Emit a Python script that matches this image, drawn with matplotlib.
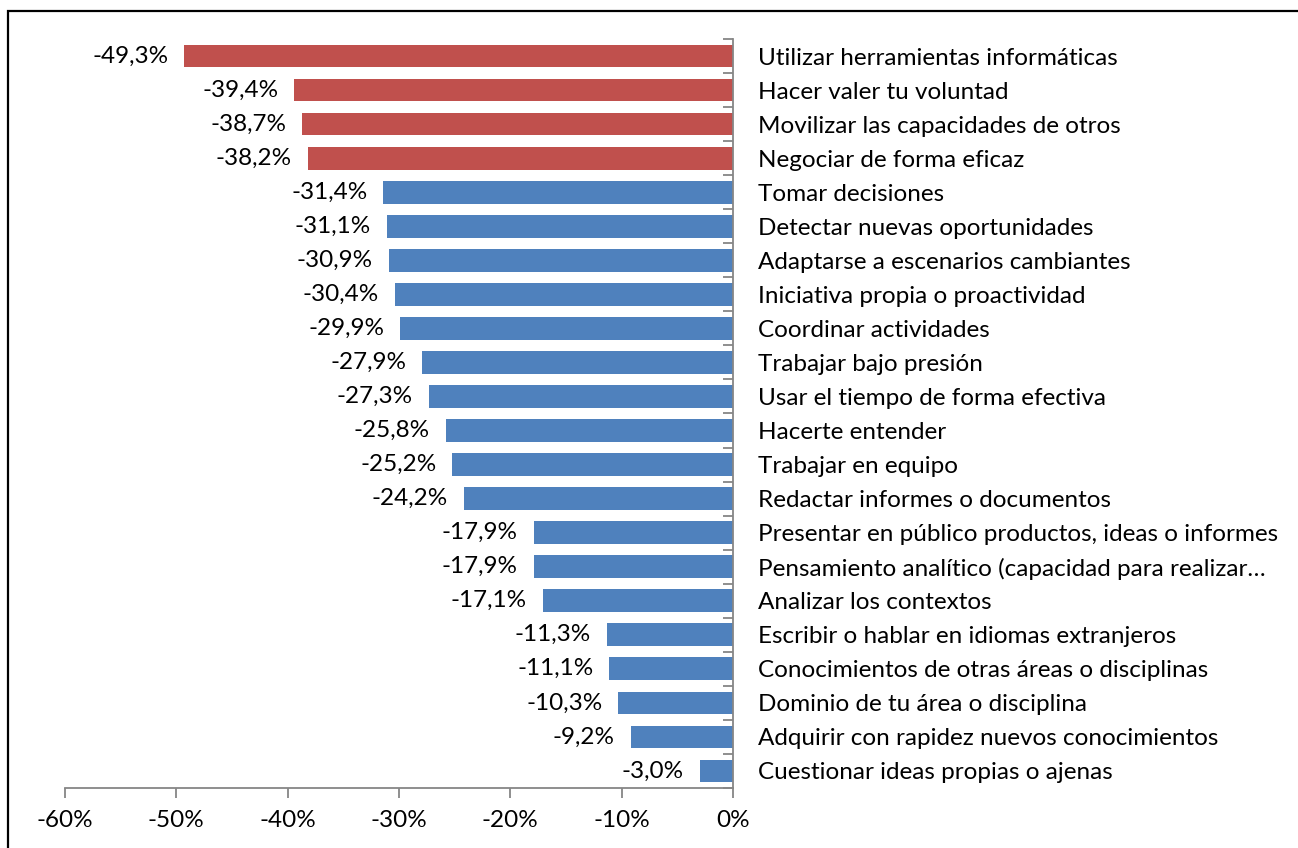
import matplotlib
matplotlib.use("Agg")
import matplotlib.pyplot as plt
from matplotlib.patches import Rectangle
from matplotlib.ticker import FixedLocator, FuncFormatter

plt.rcParams['font.family'] = ['Lato', 'DejaVu Sans']

categories = [
    "Utilizar herramientas informáticas",
    "Hacer valer tu voluntad",
    "Movilizar las capacidades de otros",
    "Negociar de forma eficaz",
    "Tomar decisiones",
    "Detectar nuevas oportunidades",
    "Adaptarse a escenarios cambiantes",
    "Iniciativa propia o proactividad",
    "Coordinar actividades",
    "Trabajar bajo presión",
    "Usar el tiempo de forma efectiva",
    "Hacerte entender",
    "Trabajar en equipo",
    "Redactar informes o documentos",
    "Presentar en público productos, ideas o informes",
    "Pensamiento analítico (capacidad para realizar…",
    "Analizar los contextos",
    "Escribir o hablar en idiomas extranjeros",
    "Conocimientos de otras áreas o disciplinas",
    "Dominio de tu área o disciplina",
    "Adquirir con rapidez nuevos conocimientos",
    "Cuestionar ideas propias o ajenas",
]
values = [-49.3, -39.4, -38.7, -38.2, -31.4, -31.1, -30.9, -30.4, -29.9,
          -27.9, -27.3, -25.8, -25.2, -24.2, -17.9, -17.9, -17.1, -11.3,
          -11.1, -10.3, -9.2, -3.0]
n_highlight = 4
x_ticks = [-60, -50, -40, -30, -20, -10, 0]

RED = "#C0504D"
BLUE = "#4F81BD"
AXIS_GRAY = "#868686"
FS = 17.5

W, H = 1298, 848
fig = plt.figure(figsize=(W / 100, H / 100), dpi=100)
ax = fig.add_axes([65 / W, 1 - 788 / H, 668 / W, 749 / H])

colors = [RED if i < n_highlight else BLUE for i in range(len(values))]
ypos = list(range(len(values)))
ax.barh(ypos, values, height=0.667, color=colors, zorder=2)

for y, v in zip(ypos, values):
    label = f"{v:.1f}%".replace(".", ",")
    ax.annotate(label, xy=(v, y), xytext=(-11.5, 0), textcoords="offset points",
                ha="right", va="center", fontsize=FS, color="black")

ax.set_xlim(-60, 0)
ax.set_ylim(len(values) - 0.5, -0.5)

for side in ("top", "left"):
    ax.spines[side].set_visible(False)
for side in ("bottom", "right"):
    ax.spines[side].set_color(AXIS_GRAY)
    ax.spines[side].set_linewidth(1.3)

# y axis sits at 0 on the right: labels to the right, tick marks at category boundaries
ax.yaxis.set_ticks_position("right")
ax.set_yticks(ypos)
ax.set_yticklabels(categories, fontsize=FS)
ax.yaxis.set_minor_locator(FixedLocator([i - 0.5 for i in range(len(values) + 1)]))
ax.tick_params(axis="y", which="major", length=0, pad=18, labelright=True, labelleft=False)
ax.tick_params(axis="y", which="minor", direction="in", length=7, width=1.3, color=AXIS_GRAY)

ax.set_xticks(x_ticks)
ax.xaxis.set_major_formatter(FuncFormatter(lambda v, p: f"{v:.0f}%"))
ax.tick_params(axis="x", direction="out", length=7, width=1.3, color=AXIS_GRAY,
               labelsize=FS, pad=9)

# chart frame
fig.add_artist(Rectangle((8 / W, -0.1), 2.0, 1.1 - 11 / H, transform=fig.transFigure,
                         fill=False, edgecolor="black", linewidth=1.6))

fig.savefig("out.png", dpi=100)
